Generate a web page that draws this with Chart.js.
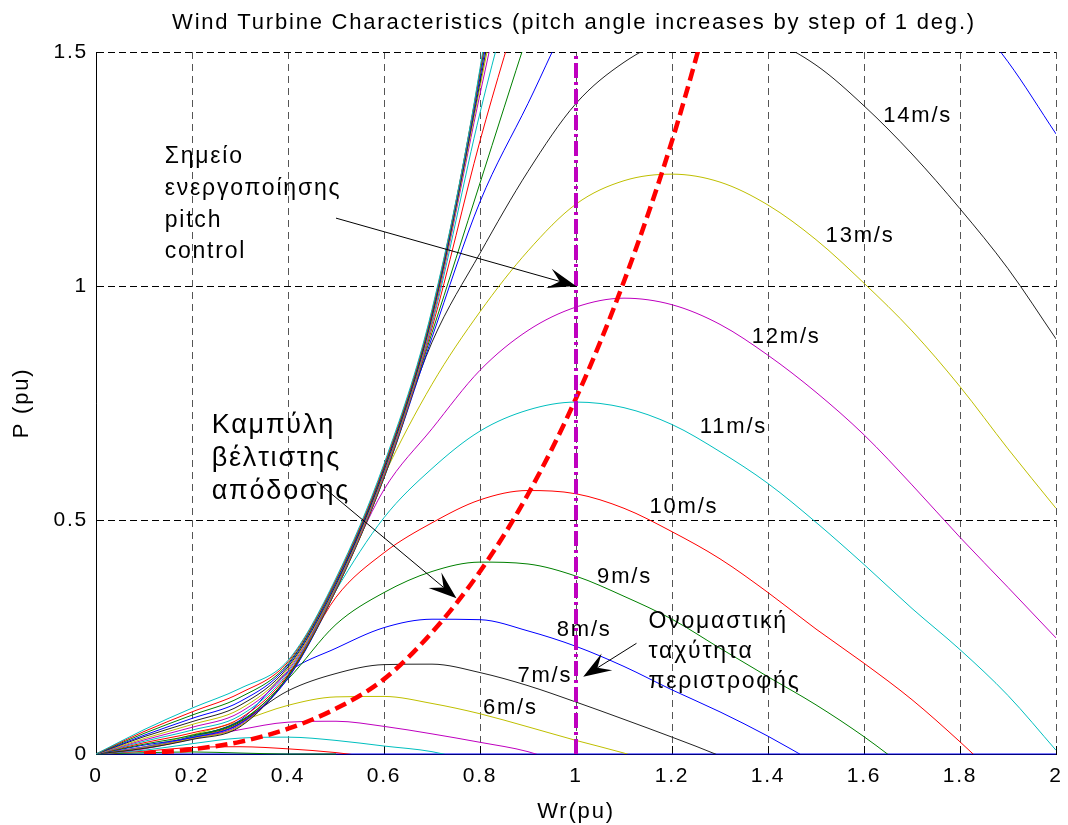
<!DOCTYPE html>
<html>
<head>
<meta charset="utf-8">
<title>Wind Turbine Characteristics</title>
<script src="https://cdn.jsdelivr.net/npm/chart.js@4.4.0/dist/chart.umd.min.js"></script>
<style>
  html, body { margin: 0; padding: 0; background: #fff; }
  #wrap { width: 1068px; height: 825px; position: relative; }
</style>
</head>
<body>
<div id="wrap"><canvas id="myChart"></canvas></div>
<script>
// rotor speed samples, Wr (pu)
var xs = [0, 0.1, 0.2, 0.3, 0.4, 0.5, 0.6, 0.7, 0.8, 0.9, 1.0, 1.1, 1.2, 1.3, 1.4, 1.5, 1.6, 1.7, 1.8, 1.9, 2.0];

// P (pu) per wind speed (1 m/s ... 25 m/s)
var v1  = [0, 0, 0, 0, 0, 0, 0, 0, 0, 0, 0, 0, 0, 0, 0, 0, 0, 0, 0, 0, 0];
var v2  = [0, 0.0027, 0.0044, 0.0021, 0, 0];
var v3  = [0, 0.006, 0.014, 0.0155, 0.011, 0.003, -0.01];
var v4  = [0, 0.008, 0.022, 0.034, 0.036, 0.029, 0.017, 0.005, -0.02];
var v5  = [0, 0.011, 0.032, 0.052, 0.068, 0.07, 0.059, 0.043, 0.025, 0.005, -0.03];
var v6  = [0, 0.015, 0.041, 0.07, 0.104, 0.122, 0.123, 0.108, 0.086, 0.058, 0.029, 0.002, -0.03];
var v7  = [0, 0.013, 0.036, 0.07, 0.135, 0.172, 0.191, 0.192, 0.174, 0.146, 0.111, 0.074, 0.036, -0.004, -0.05];
var v8  = [0, 0.014, 0.038, 0.072, 0.175, 0.226, 0.27, 0.288, 0.287, 0.263, 0.23, 0.187, 0.137, 0.09, 0.038, -0.02];
var v9  = [0, 0.014, 0.037, 0.068, 0.16, 0.277, 0.345, 0.39, 0.41, 0.406, 0.38, 0.337, 0.288, 0.226, 0.165, 0.105, 0.037, -0.04];
var v10 = [0, 0.015, 0.036, 0.066, 0.162, 0.335, 0.43, 0.494, 0.543, 0.563, 0.556, 0.525, 0.475, 0.417, 0.345, 0.267, 0.194, 0.116, 0.026, -0.07];
var v11 = [0, 0.015, 0.036, 0.064, 0.163, 0.35, 0.505, 0.61, 0.69, 0.735, 0.752, 0.74, 0.704, 0.646, 0.578, 0.495, 0.405, 0.311, 0.223, 0.125, 0.008];
var v12 = [0, 0.014, 0.034, 0.062, 0.165, 0.355, 0.565, 0.695, 0.82, 0.905, 0.955, 0.974, 0.96, 0.918, 0.852, 0.773, 0.682, 0.575, 0.463, 0.356, 0.248];
var v13 = [0, 0.013, 0.033, 0.06, 0.166, 0.357, 0.595, 0.79, 0.945, 1.075, 1.175, 1.225, 1.239, 1.222, 1.173, 1.099, 1.006, 0.904, 0.785, 0.652, 0.525];
var v14 = [0, 0.012, 0.031, 0.058, 0.167, 0.36, 0.6, 0.88, 1.07, 1.245, 1.39, 1.478, 1.53, 1.548, 1.527, 1.472, 1.385, 1.282, 1.165, 1.037, 0.887];
var v15 = [0, 0.019, 0.035, 0.065, 0.162, 0.35, 0.59, 0.89, 1.18, 1.39, 1.6, 1.74, 1.83, 1.89, 1.9, 1.876, 1.814, 1.722, 1.604, 1.479, 1.325];
var v16 = [0, 0.021, 0.040, 0.070, 0.166, 0.35, 0.59, 0.9, 1.22, 1.54, 1.85];
var v17 = [0, 0.024, 0.045, 0.076, 0.170, 0.352, 0.593, 0.91, 1.31, 1.66, 2.0];
var v18 = [0, 0.027, 0.051, 0.082, 0.174, 0.355, 0.597, 0.918, 1.37, 1.76];
var v19 = [0, 0.030, 0.057, 0.089, 0.178, 0.358, 0.6, 0.924, 1.41, 1.88];
var v20 = [0, 0.033, 0.063, 0.096, 0.182, 0.36, 0.603, 0.929, 1.425, 1.95];
var v21 = [0, 0.037, 0.069, 0.104, 0.186, 0.363, 0.606, 0.934, 1.435, 2.0];
var v22 = [0, 0.040, 0.076, 0.112, 0.19, 0.366, 0.61, 0.938, 1.445, 2.05];
var v23 = [0, 0.044, 0.083, 0.121, 0.193, 0.37, 0.613, 0.942, 1.455, 2.1];
var v24 = [0, 0.048, 0.090, 0.130, 0.197, 0.373, 0.616, 0.946, 1.46, 2.15];
var v25 = [0, 0.052, 0.098, 0.140, 0.20, 0.376, 0.62, 0.95, 1.465, 2.2];

// optimum power curve (red dashed)
var optX = [0.1, 0.2, 0.3, 0.4, 0.5, 0.6, 0.7, 0.8, 0.9, 1.0, 1.1, 1.2, 1.3];
var optY = [0.001, 0.01, 0.026, 0.054, 0.097, 0.16, 0.26, 0.39, 0.555, 0.76, 1.01, 1.31, 1.67];

// rated speed line
var ratedX = [1, 1];
var ratedY = [0, 1.5];

var xTickValues = [0, 0.2, 0.4, 0.6, 0.8, 1, 1.2, 1.4, 1.6, 1.8, 2];
var xTickLabels = ['0', '0.2', '0.4', '0.6', '0.8', '1', '1.2', '1.4', '1.6', '1.8', '2'];
var yTickValues = [0, 0.5, 1, 1.5];
var yTickLabels = ['0', '0.5', '1', '1.5'];

var speedLabels = ['6m/s', '7m/s', '8m/s', '9m/s', '10m/s', '11m/s', '12m/s', '13m/s', '14m/s'];
var speedLabelX = [0.806, 0.878, 0.96, 1.044, 1.153, 1.258, 1.366, 1.52, 1.64];
var speedLabelY = [0.0855, 0.1545, 0.252, 0.365, 0.514, 0.685, 0.878, 1.095, 1.351];

var speedSeries = [v1, v2, v3, v4, v5, v6, v7, v8, v9, v10, v11, v12, v13, v14, v15,
                   v16, v17, v18, v19, v20, v21, v22, v23, v24, v25];
var lineColors = ['#0000FF', '#008000', '#FF0000', '#00BFBF', '#BF00BF', '#BFBF00', '#222222'];

var fontFamily = '"Liberation Sans", Arial, Helvetica, sans-serif';
var letterGap = '1.8px';

// text blocks with arrows: lines, x / y of first baseline (data), line step px, font px
var notes = [
  { lines: ['Σημείο', 'ενεργοποίησης', 'pitch', 'control'], x: 0.143, y: 1.262, step: 31.6, size: 23 },
  { lines: ['Καμπύλη', 'βέλτιστης', 'απόδοσης'], x: 0.241, y: 0.686, step: 33, size: 27 },
  { lines: ['Ονομαστική', 'ταχύτητα', 'περιστροφής'], x: 1.151, y: 0.2686, step: 30, size: 23 }
];
var arrows = [
  { from: [0.5, 1.145], to: [1.0, 1.0] },
  { from: [0.46, 0.582], to: [0.751, 0.333] },
  { from: [1.126, 0.2365], to: [1.015, 0.165] }
];

function drawArrow(ctx, x1, y1, x2, y2) {
  var dx = x2 - x1, dy = y2 - y1;
  var len = Math.sqrt(dx * dx + dy * dy);
  var ux = dx / len, uy = dy / len, nx = -uy, ny = ux;
  var L = 28, W = 10;
  ctx.beginPath();
  ctx.moveTo(x1, y1);
  ctx.lineTo(x2 - ux * L * 0.6, y2 - uy * L * 0.6);
  ctx.stroke();
  ctx.beginPath();
  ctx.moveTo(x2, y2);
  ctx.lineTo(x2 - ux * L + nx * W, y2 - uy * L + ny * W);
  ctx.lineTo(x2 - ux * L * 0.6, y2 - uy * L * 0.6);
  ctx.lineTo(x2 - ux * L - nx * W, y2 - uy * L - ny * W);
  ctx.closePath();
  ctx.fill();
}

var decor = {
  id: 'decor',
  beforeDraw: function(chart) {
    var ctx = chart.ctx;
    ctx.save();
    ctx.fillStyle = '#fff';
    ctx.fillRect(0, 0, chart.width, chart.height);
    ctx.restore();
    ctx.letterSpacing = letterGap;
  },
  beforeDatasetsDraw: function(chart) {
    // inward tick marks
    var ctx = chart.ctx, a = chart.chartArea;
    var sx = chart.scales.x, sy = chart.scales.y;
    ctx.save();
    ctx.strokeStyle = '#000';
    ctx.lineWidth = 1;
    ctx.beginPath();
    xTickValues.forEach(function(v) {
      var px = Math.round(sx.getPixelForValue(v)) + 0.5;
      ctx.moveTo(px, a.bottom);
      ctx.lineTo(px, a.bottom - 8);
    });
    yTickValues.forEach(function(v) {
      var py = Math.round(sy.getPixelForValue(v)) + 0.5;
      ctx.moveTo(a.left, py);
      ctx.lineTo(a.left + 8, py);
    });
    ctx.stroke();
    ctx.restore();
  },
  afterDatasetsDraw: function(chart) {
    var ctx = chart.ctx, a = chart.chartArea;
    var sx = chart.scales.x, sy = chart.scales.y;
    ctx.save();
    ctx.fillStyle = '#000';
    ctx.strokeStyle = '#000';
    ctx.textBaseline = 'alphabetic';

    // title
    ctx.font = '22px ' + fontFamily;
    ctx.textAlign = 'center';
    ctx.fillText('Wind Turbine Characteristics (pitch angle increases by step of 1 deg.)', (a.left + a.right) / 2 - 2, 29);
    ctx.textAlign = 'left';

    // wind speed labels
    ctx.font = '22px ' + fontFamily;
    speedLabels.forEach(function(t, i) {
      ctx.fillText(t, sx.getPixelForValue(speedLabelX[i]), sy.getPixelForValue(speedLabelY[i]));
    });

    // note blocks
    notes.forEach(function(n) {
      ctx.font = n.size + 'px ' + fontFamily;
      var x0 = sx.getPixelForValue(n.x), y0 = sy.getPixelForValue(n.y);
      n.lines.forEach(function(t, i) {
        ctx.fillText(t, x0, y0 + i * n.step);
      });
    });

    // arrows
    ctx.lineWidth = 1;
    arrows.forEach(function(ar) {
      drawArrow(ctx,
        sx.getPixelForValue(ar.from[0]), sy.getPixelForValue(ar.from[1]),
        sx.getPixelForValue(ar.to[0]), sy.getPixelForValue(ar.to[1]));
    });
    ctx.restore();
  }
};

var datasets = speedSeries.map(function(s, i) {
  return {
    label: (i + 1) + 'm/s',
    data: s.map(function(y, j) { return { x: xs[j], y: y }; }),
    borderColor: lineColors[i % 7],
    borderWidth: 1,
    pointRadius: 0,
    fill: false,
    cubicInterpolationMode: 'monotone',
    order: 100 - i,
    clip: i < 2 ? { left: 0, top: 0, right: 0, bottom: 1 } : undefined
  };
});

datasets.push({
  label: 'optimum',
  data: optX.map(function(x, j) { return { x: x, y: optY[j] }; }),
  borderColor: '#FF0000',
  borderWidth: 4.5,
  borderDash: [12, 6],
  pointRadius: 0,
  fill: false,
  cubicInterpolationMode: 'monotone',
  order: 2
});

datasets.push({
  label: 'rated',
  data: ratedX.map(function(x, j) { return { x: x, y: ratedY[j] }; }),
  borderColor: '#BF00BF',
  borderWidth: 4,
  borderDash: [15, 4, 3, 4],
  pointRadius: 0,
  fill: false,
  order: 1
});

Chart.defaults.font.family = fontFamily;
Chart.defaults.color = '#000';

new Chart(document.getElementById('myChart'), {
  type: 'line',
  data: { datasets: datasets },
  plugins: [decor],
  options: {
    responsive: true,
    maintainAspectRatio: false,
    animation: false,
    events: [],
    layout: { padding: { left: 0, top: 52, right: 12, bottom: 0 } },
    plugins: {
      legend: { display: false },
      tooltip: { enabled: false },
      title: { display: false }
    },
    scales: {
      x: {
        type: 'linear',
        min: 0,
        max: 2,
        afterBuildTicks: function(scale) {
          scale.ticks = xTickValues.map(function(v) { return { value: v }; });
        },
        afterFit: function(scale) {
          scale.height = 71;
          scale.paddingLeft = 0;
          scale.paddingRight = 0;
        },
        ticks: {
          font: { size: 21 },
          padding: 10,
          maxRotation: 0,
          autoSkip: false,
          callback: function(value, index) { return xTickLabels[index]; }
        },
        grid: { color: '#555', lineWidth: 1, drawTicks: false },
        border: { display: true, color: '#000', width: 1, dash: [7, 5] },
        title: { display: true, text: 'Wr(pu)', font: { size: 22 }, padding: { top: 0, bottom: 0 } }
      },
      y: {
        min: 0,
        max: 1.5,
        afterBuildTicks: function(scale) {
          scale.ticks = yTickValues.map(function(v) { return { value: v }; });
        },
        afterFit: function(scale) {
          scale.width = 96;
          scale.paddingTop = 0;
          scale.paddingBottom = 0;
        },
        ticks: {
          font: { size: 21 },
          padding: 8,
          autoSkip: false,
          callback: function(value, index) { return yTickLabels[index]; }
        },
        grid: { color: '#000', lineWidth: 1, drawTicks: false },
        border: { display: true, color: '#000', width: 1, dash: [7, 4] },
        title: { display: true, text: 'P (pu)', font: { size: 22 }, padding: { top: 9, bottom: 0 } }
      }
    }
  }
});
</script>
</body>
</html>
